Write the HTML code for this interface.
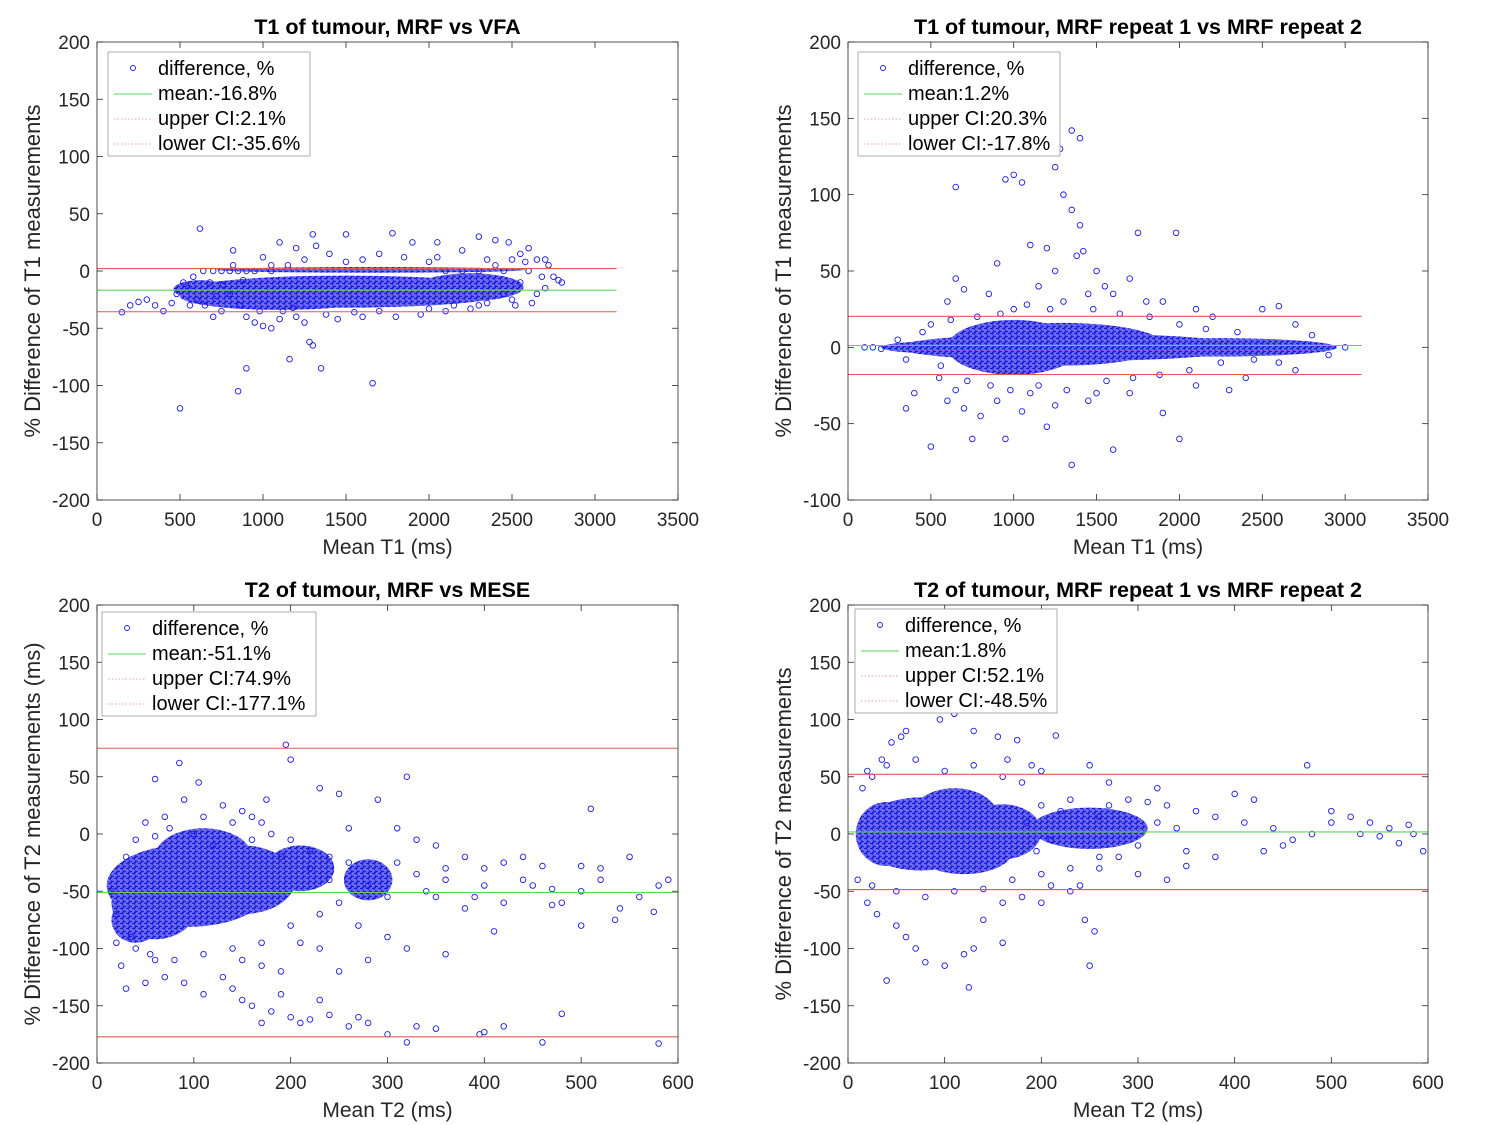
<!DOCTYPE html>
<html><head><meta charset="utf-8"><style>
html,body{margin:0;padding:0;background:#fff;}
svg{display:block;font-family:"Liberation Sans",sans-serif;}
</style></head><body>
<svg id="fig" width="1502" height="1125" viewBox="0 0 1502 1125">
<defs>
<pattern id="dots" width="6" height="5" patternUnits="userSpaceOnUse">
<rect width="6" height="5" fill="#6a6af0"/>
<circle cx="1.5" cy="1.2" r="2.4" fill="none" stroke="#1010d8" stroke-width="0.9"/>
<circle cx="4.5" cy="3.7" r="2.4" fill="none" stroke="#1010d8" stroke-width="0.9"/>
</pattern>
</defs>
</svg>
<script>
// ---- Data (values in data units) ----
const p1Points=[500,-120,850,-105,900,-85,1160,-77,1280,-62,1300,-65,1350,-85,1660,-98,620,37,820,18,1300,32,1500,32,1780,33,1900,25,2050,25,2300,30,2400,27,2480,25,2700,10,2800,-10,150,-36,250,-27,350,-30,480,-20,1000,-48,1100,-42,1200,-40,900,-40,700,-40,2100,-35,2300,-30,2500,-25,2650,-20,2750,-5,1400,15,1700,15,1200,20,1000,12,2200,18,2600,20,200,-30,300,-25,400,-35,450,-28,550,-15,600,-25,650,-30,750,-35,800,-20,950,-45,1050,-50,1250,-45,1450,-42,1600,-40,1800,-40,1950,-38,2150,-30,2350,-28,2450,-20,2550,-10,2600,0,2700,-15,2780,-8,1150,5,1600,10,1850,12,2000,8,2400,5,2550,15,2650,10,1320,22,1100,25,640,0,700,0,750,0,800,0,850,0,900,0,950,0,1050,0,2100,0,2200,0,2300,0,2450,0,520,-10,560,-30,580,-5,680,-10,720,-22,760,-12,860,-30,880,-8,980,-35,1120,-35,1180,-32,1380,-38,1550,-36,1700,-35,2000,-33,2250,-33,2520,-30,2620,-28,2680,-5,2720,5,2580,8,2500,10,2350,10,2050,12,1500,8,1250,10,1050,5,820,5];
const p2Points=[650,105,950,110,1000,113,1050,108,1250,118,1280,130,1350,142,1400,137,1300,100,1350,90,1400,80,1380,60,1420,63,1200,65,1100,67,900,55,1750,75,1980,75,1700,45,1550,40,500,-65,750,-60,950,-60,1350,-77,1600,-67,2000,-60,1900,-43,1200,-52,1050,-42,800,-45,700,-40,600,-35,350,-40,400,-30,1450,-35,2300,-28,2500,25,2600,27,2700,15,2900,-5,3000,0,100,0,150,0,200,-1,1800,30,2100,25,650,45,700,38,600,30,850,35,1150,40,1250,50,1500,50,1600,35,1900,30,2200,20,550,-20,650,-28,900,-35,1100,-30,1250,-38,1500,-30,1700,-30,2100,-25,2400,-20,2700,-15,2800,8,2600,-10,300,5,350,-8,450,10,1000,25,1300,30,1450,35,500,15,560,-12,620,18,720,-22,780,20,860,-25,920,22,980,-28,1080,28,1150,-25,1220,25,1320,-28,1480,25,1560,-22,1640,22,1720,-20,1820,20,1880,-18,2000,15,2060,-15,2160,12,2250,-10,2350,10,2450,-8];
const p3Points=[580,-183,480,-157,460,-182,420,-168,395,-175,400,-173,350,-170,330,-168,320,-182,300,-175,280,-165,270,-160,260,-168,240,-158,230,-145,220,-162,210,-165,200,-160,190,-140,180,-155,170,-165,160,-150,150,-145,140,-135,195,78,200,65,85,62,60,48,105,45,320,50,510,22,230,40,250,35,290,30,260,5,310,5,330,-5,350,-10,380,-20,400,-30,420,-25,440,-40,460,-28,480,-60,500,-50,520,-40,540,-65,560,-55,580,-45,590,-40,575,-68,535,-75,500,-80,470,-62,450,-45,420,-60,390,-55,360,-40,340,-50,300,-55,280,-45,250,-60,270,-80,300,-90,320,-100,280,-110,250,-120,230,-100,210,-95,190,-120,170,-115,150,-110,130,-125,110,-140,90,-130,70,-125,50,-130,30,-135,25,-115,20,-95,40,-100,60,-110,520,-30,500,-28,440,-20,400,-45,360,-30,330,-35,310,-25,380,-65,350,-55,410,-85,360,-105,550,-20,470,-48,240,-20,220,-15,200,-5,180,0,170,10,160,15,175,30,150,20,130,25,90,30,120,-10,50,10,70,15,110,15,140,10,40,-5,30,-20,15,-50,20,-70,35,-90,55,-105,80,-110,110,-105,140,-100,170,-95,200,-80,230,-70,220,-30,240,-40,260,-25,190,-20,160,-5,100,0,75,5,60,-2];
const p4Points=[110,105,95,100,130,90,155,85,175,82,215,86,250,60,165,65,190,60,200,55,270,45,320,40,400,35,420,30,475,60,500,20,520,15,540,10,560,5,580,8,595,-15,570,-8,550,-2,530,0,450,-10,430,-15,380,-20,350,-28,330,-40,300,-35,260,-30,240,-45,210,-45,180,-55,160,-60,140,-75,130,-100,120,-105,100,-115,80,-112,70,-100,60,-90,50,-80,40,-128,30,-70,20,-60,10,-40,15,40,25,50,35,65,45,80,55,85,60,90,250,-115,255,-85,245,-75,230,-50,160,-95,200,-60,270,25,290,30,310,28,330,25,360,20,380,15,410,10,440,5,480,0,350,-15,300,-10,280,-20,220,20,200,25,185,10,195,-15,210,-5,260,15,320,10,340,5,125,-134,500,10,460,-5,585,0,20,55,40,60,70,65,100,55,130,60,160,50,180,45,25,-45,50,-50,80,-55,110,-50,140,-48,170,-40,200,-35,230,-30,230,30,260,-20];
// dense core regions: centre x, centre y, half-width, half-height
const p1Cores=[1500,-18,1000,14,620,-16,160,8,2250,-14,320,12,1650,1,930,2.5,1100,-22,600,12];
const p2Cores=[1350,0,1050,9,550,0,350,4,2250,0,700,6,1300,2,600,14,1000,0,400,18];
const p3Cores=[95,-45,85,36,60,-60,45,32,150,-40,55,30,210,-30,35,20,280,-40,25,18,110,-20,50,25,40,-75,25,20];
const p4Cores=[75,0,65,32,160,2,40,24,250,5,60,18,40,0,32,28,110,15,45,25,120,-15,50,20];
// ---- helpers ----
const NS='http://www.w3.org/2000/svg';
const svg=document.getElementById('fig');
function mk(tag,attrs,parent){const e=document.createElementNS(NS,tag);for(const k in attrs)e.setAttribute(k,attrs[k]);(parent||svg).appendChild(e);return e;}
function panel(c){
  const g=mk('g',{});
  
  
  const sx=v=>c.x0+(v-c.xmin)/(c.xmax-c.xmin)*(c.x1-c.x0);
  const sy=v=>c.y1-(v-c.ymin)/(c.ymax-c.ymin)*(c.y1-c.y0);
  const clip='clip-'+c.name;
  const cp=mk('clipPath',{id:clip},g);mk('rect',{x:c.x0,y:c.y0,width:c.x1-c.x0,height:c.y1-c.y0},cp);
  const cg=mk('g',{'clip-path':'url(#'+clip+')'},g);
  for(let i=0;i<c.cores.length;i+=4){
    const e=mk('ellipse',{cx:sx(c.cores[i]),cy:sy(c.cores[i+1]),rx:Math.abs(sx(c.cores[i+2])-sx(0)),ry:Math.abs(sy(c.cores[i+3])-sy(0)),fill:'url(#dots)'},cg);
    
    
  }
  for(let i=0;i<c.pts.length;i+=2){
    const p=mk('circle',{cx:sx(c.pts[i]),cy:sy(c.pts[i+1]),r:2.8,fill:'none',stroke:'#1a1ae6','stroke-width':0.9},cg);
    
    
  }
  const lines=[[c.upper,'#e05a5a','upper-ci-line'],[c.lower,'#e05a5a','lower-ci-line'],[c.mean,'#5fd35f','mean-line']];
  lines.forEach(L=>{const l=mk('line',{x1:sx(c.lx0),x2:sx(c.lx1),y1:sy(L[0]),y2:sy(L[0]),stroke:L[1],'stroke-width':1.1},cg);
    });
  const b=mk('rect',{x:c.x0,y:c.y0,width:c.x1-c.x0,height:c.y1-c.y0,fill:'none',stroke:'#262626','stroke-width':0.8},g);
  
  c.xt.forEach(v=>{const X=sx(v);mk('line',{x1:X,x2:X,y1:c.y1,y2:c.y1-6,stroke:'#262626','stroke-width':0.8},g);mk('line',{x1:X,x2:X,y1:c.y0,y2:c.y0+6,stroke:'#262626','stroke-width':0.8},g);
    const t=mk('text',{x:X,y:c.y1+26,'text-anchor':'middle','font-size':19,fill:'#262626'},g);t.textContent=v;
    });
  c.yt.forEach(v=>{const Y=sy(v);mk('line',{x1:c.x0,x2:c.x0+6,y1:Y,y2:Y,stroke:'#262626','stroke-width':0.8},g);mk('line',{x1:c.x1,x2:c.x1-6,y1:Y,y2:Y,stroke:'#262626','stroke-width':0.8},g);
    const t=mk('text',{x:c.x0-7,y:Y+7,'text-anchor':'end','font-size':19,fill:'#262626'},g);t.textContent=v;
    });
  const tt=mk('text',{x:(c.x0+c.x1)/2,y:c.y0-8,'text-anchor':'middle','font-size':21.5,'font-weight':'bold',fill:'#000'},g);tt.textContent=c.title;
  
  const xl=mk('text',{x:(c.x0+c.x1)/2,y:c.y1+54,'text-anchor':'middle','font-size':21,fill:'#262626'},g);xl.textContent=c.xlabel;
  
  const yc=(c.y0+c.y1)/2;
  const yl=mk('text',{x:c.x0-57,y:yc,'text-anchor':'middle','font-size':22,fill:'#262626',transform:'rotate(-90 '+(c.x0-57)+' '+yc+')'},g);yl.textContent=c.ylabel;
  
  const lg=mk('g',{},g);
  mk('rect',{x:c.lgx,y:c.lgy,width:c.lgw,height:104,fill:'#fff',stroke:'#9a9a9a','stroke-width':0.8},lg);
  c.leg.forEach((s,i)=>{const Y=c.lgy+16+i*25;
    if(i==0)mk('circle',{cx:c.lgx+25,cy:Y,r:2.5,fill:'none',stroke:'#1a1ae6','stroke-width':0.9},lg);
    else mk('line',{x1:c.lgx+6,x2:c.lgx+44,y1:Y+1,y2:Y+1,stroke:i==1?'#5fd35f':'#e8a0a0','stroke-width':1,'stroke-dasharray':i==1?'none':'1.5 2'},lg);
    const t=mk('text',{x:c.lgx+50,y:Y+7,'font-size':20,fill:'#000'},lg);t.textContent=s;
    });
}
panel({name:'t1-mrf-vs-vfa',x0:97,x1:678,y0:42,y1:500,xmin:0,xmax:3500,ymin:-200,ymax:200,xt:[0,500,1000,1500,2000,2500,3000,3500],yt:[-200,-150,-100,-50,0,50,100,150,200],
 title:'T1 of tumour, MRF vs VFA',xlabel:'Mean T1 (ms)',ylabel:'% Difference of T1 measurements',mean:-16.8,upper:2.1,lower:-35.6,lx0:0,lx1:3130,
 pts:p1Points,cores:p1Cores,lgx:108,lgy:52,lgw:202,leg:['difference, %','mean:-16.8%','upper CI:2.1%','lower CI:-35.6%']});
panel({name:'t1-mrf-repeat',x0:848,x1:1428,y0:42,y1:500,xmin:0,xmax:3500,ymin:-100,ymax:200,xt:[0,500,1000,1500,2000,2500,3000,3500],yt:[-100,-50,0,50,100,150,200],
 title:'T1 of tumour, MRF repeat 1 vs MRF repeat 2',xlabel:'Mean T1 (ms)',ylabel:'% Difference of T1 measurements',mean:1.2,upper:20.3,lower:-17.8,lx0:0,lx1:3100,
 pts:p2Points,cores:p2Cores,lgx:858,lgy:52,lgw:202,leg:['difference, %','mean:1.2%','upper CI:20.3%','lower CI:-17.8%']});
panel({name:'t2-mrf-vs-mese',x0:97,x1:678,y0:605,y1:1063,xmin:0,xmax:600,ymin:-200,ymax:200,xt:[0,100,200,300,400,500,600],yt:[-200,-150,-100,-50,0,50,100,150,200],
 title:'T2 of tumour, MRF vs MESE',xlabel:'Mean T2 (ms)',ylabel:'% Difference of T2 measurements (ms)',mean:-51.1,upper:74.9,lower:-177.1,lx0:0,lx1:600,
 pts:p3Points,cores:p3Cores,lgx:102,lgy:612,lgw:214,leg:['difference, %','mean:-51.1%','upper CI:74.9%','lower CI:-177.1%']});
panel({name:'t2-mrf-repeat',x0:848,x1:1428,y0:605,y1:1063,xmin:0,xmax:600,ymin:-200,ymax:200,xt:[0,100,200,300,400,500,600],yt:[-200,-150,-100,-50,0,50,100,150,200],
 title:'T2 of tumour, MRF repeat 1 vs MRF repeat 2',xlabel:'Mean T2 (ms)',ylabel:'% Difference of T2 measurements',mean:1.8,upper:52.1,lower:-48.5,lx0:0,lx1:600,
 pts:p4Points,cores:p4Cores,lgx:855,lgy:609,lgw:202,leg:['difference, %','mean:1.8%','upper CI:52.1%','lower CI:-48.5%']});
</script>
</body></html>
